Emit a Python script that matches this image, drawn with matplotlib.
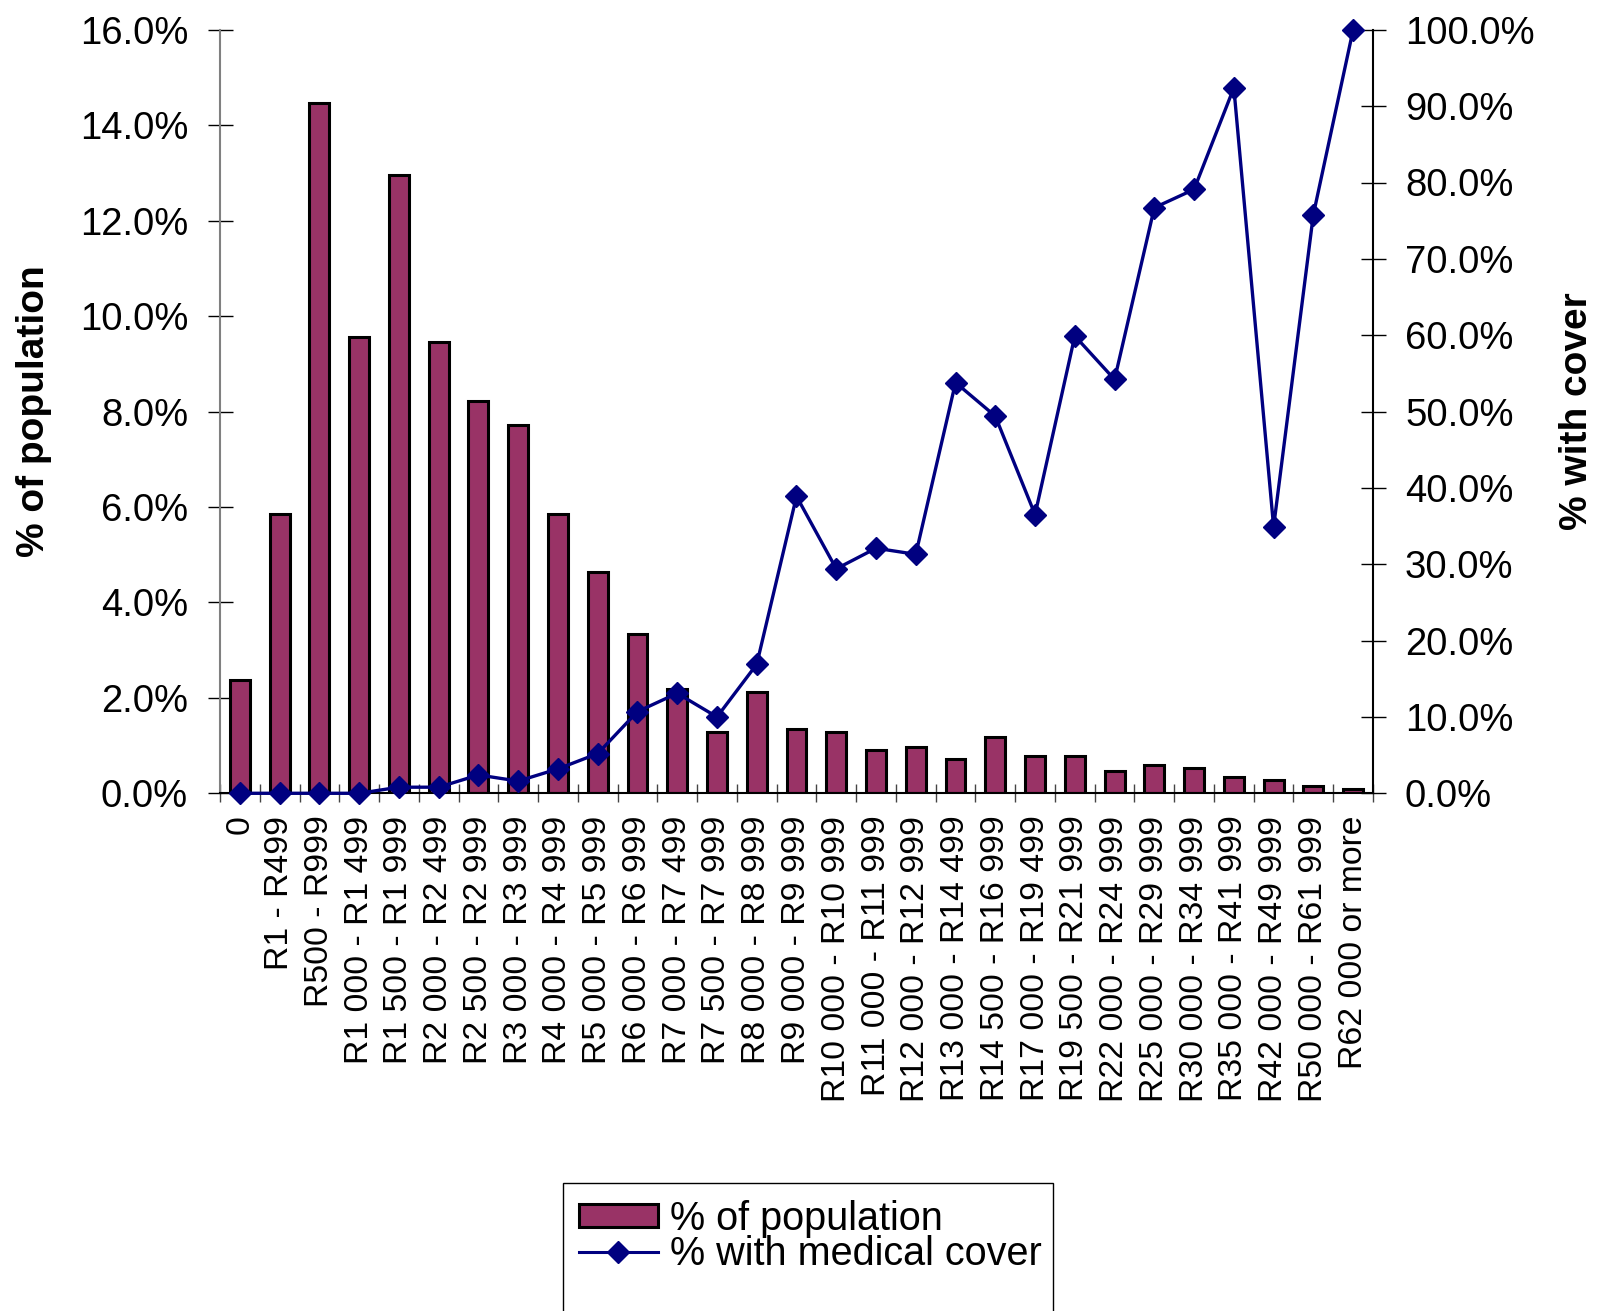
import matplotlib
matplotlib.use("Agg")
import matplotlib.pyplot as plt
from matplotlib.lines import Line2D
from matplotlib.patches import Patch, Rectangle
import numpy as np

plt.rcParams['font.family'] = ['Liberation Sans', 'DejaVu Sans']

categories = [
    "0", "R1 - R499", "R500 - R999", "R1 000 - R1 499", "R1 500 - R1 999",
    "R2 000 - R2 499", "R2 500 - R2 999", "R3 000 - R3 999", "R4 000 - R4 999",
    "R5 000 - R5 999", "R6 000 - R6 999", "R7 000 - R7 499", "R7 500 - R7 999",
    "R8 000 - R8 999", "R9 000 - R9 999", "R10 000 - R10 999", "R11 000 - R11 999",
    "R12 000 - R12 999", "R13 000 - R14 499", "R14 500 - R16 999",
    "R17 000 - R19 499", "R19 500 - R21 999", "R22 000 - R24 999",
    "R25 000 - R29 999", "R30 000 - R34 999", "R35 000 - R41 999",
    "R42 000 - R49 999", "R50 000 - R61 999", "R62 000 or more",
]

pct_population = [
    2.38, 5.85, 14.46, 9.57, 12.96, 9.45, 8.22, 7.72, 5.85, 4.63,
    3.34, 2.19, 1.28, 2.12, 1.35, 1.28, 0.90, 0.97, 0.72, 1.17,
    0.78, 0.78, 0.47, 0.59, 0.53, 0.34, 0.27, 0.15, 0.08,
]

pct_medical_cover = [
    0.0, 0.0, 0.0, 0.0, 0.8, 0.8, 2.4, 1.6, 3.2, 5.2,
    10.7, 13.1, 10.0, 16.9, 38.9, 29.4, 32.1, 31.3, 53.8, 49.4,
    36.5, 59.9, 54.2, 76.7, 79.1, 92.4, 34.9, 75.8, 100.0,
]

left_ticks = [0, 2, 4, 6, 8, 10, 12, 14, 16]
right_ticks = [0, 10, 20, 30, 40, 50, 60, 70, 80, 90, 100]

BAR_COLOR = "#993366"
LINE_COLOR = "#000080"

W, H = 1606, 1311
fig = plt.figure(figsize=(W / 100, H / 100), dpi=100)
ax = fig.add_axes([220 / W, 1 - 793.3 / H, (1373 - 220) / W, (793.3 - 29.8) / H])

x = np.arange(len(categories))
ax.bar(x, pct_population, width=0.5, color=BAR_COLOR, edgecolor="black",
       linewidth=2.2, zorder=2)

ax.set_xlim(-0.5, len(categories) - 0.5)
ax.set_ylim(0, 16)
ax.set_yticks(left_ticks)
ax.set_yticklabels([f"{v:.1f}%" for v in left_ticks])
ax.tick_params(axis="y", direction="inout", length=18, width=1, pad=14,
               labelsize=27.5, colors="black")

# category labels at centres, tick marks between categories
ax.set_xticks(x)
ax.set_xticklabels(categories, rotation=90)
ax.tick_params(axis="x", which="major", length=0, pad=16, labelsize=24.3)
ax.set_xticks(np.arange(-0.5, len(categories) + 0.5, 1.0), minor=True)
ax.tick_params(axis="x", which="minor", direction="inout", length=13.5,
               width=1, color="#444444")

for side in ("top", "right"):
    ax.spines[side].set_visible(False)
ax.spines["left"].set_color("#808080")
ax.spines["left"].set_linewidth(1.5)
ax.spines["bottom"].set_color("black")
ax.spines["bottom"].set_linewidth(1.5)

ax.set_ylabel("% of population", fontsize=28, fontweight="bold", va="center")
ax.yaxis.set_label_coords(-0.1613, 0.5)

ax2 = ax.twinx()
ax2.plot(x, pct_medical_cover, color=LINE_COLOR, linewidth=2.4, marker="D",
         markersize=11, markerfacecolor=LINE_COLOR, markeredgecolor=LINE_COLOR,
         zorder=3, clip_on=False)
ax2.set_ylim(0, 100)
ax2.set_yticks(right_ticks)
ax2.set_yticklabels([f"{v:.1f}%" for v in right_ticks])
ax2.tick_params(axis="y", direction="inout", length=18, width=1, pad=14,
                labelsize=27.5, colors="black")
for side in ("top", "left", "bottom"):
    ax2.spines[side].set_visible(False)
ax2.spines["right"].set_color("black")
ax2.spines["right"].set_linewidth(1.5)
ax2.set_ylabel("% with cover", fontsize=28, fontweight="bold", va="center",
               rotation=90)
ax2.yaxis.set_label_coords(1.1769, 0.5)

# legend box runs off the bottom edge of the figure
fig.patches.append(Rectangle((563 / W, -0.02), (1053 - 563) / W, 0.02 + 1 - 1183 / H,
                             transform=fig.transFigure, facecolor="white",
                             edgecolor="black", linewidth=1.0, zorder=1))

handles = [
    Patch(facecolor=BAR_COLOR, edgecolor="black", linewidth=2.2),
    Line2D([0], [0], color=LINE_COLOR, linewidth=2.2, marker="D",
           markersize=11, markerfacecolor=LINE_COLOR, markeredgecolor=LINE_COLOR),
]
leg = fig.legend(handles, ["% of population", "% with medical cover"],
                 loc="upper left", bbox_to_anchor=(578.6 / W, 1 - 1199.5 / H),
                 bbox_transform=fig.transFigure, borderaxespad=0,
                 fontsize=28.5, frameon=False, borderpad=0,
                 labelspacing=-0.06, handlelength=2.0, handleheight=0.5,
                 handletextpad=0.3)
leg.set_zorder(2)

fig.savefig("out.png", dpi=100)
